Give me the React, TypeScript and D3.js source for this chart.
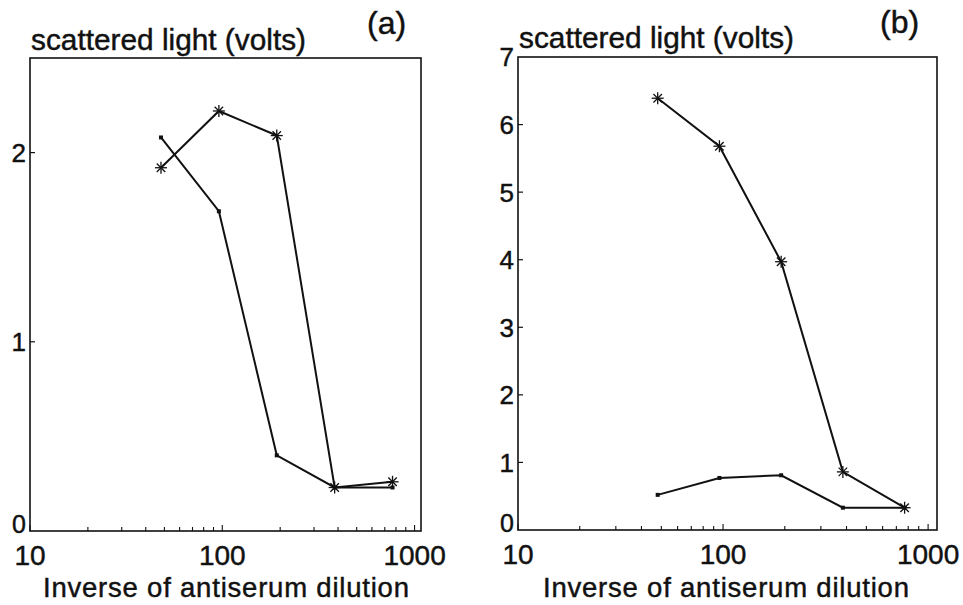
import * as d3 from 'd3'

// 2-fold dilution series (inverse of antiserum dilution)
const dilution = [48, 96, 192, 384, 768]

// panel (a)
const aStar = [1.92, 2.22, 2.09, 0.23, 0.26]
const aDot = [2.08, 1.69, 0.40, 0.23, 0.23]
const aYTicks = [0, 1, 2]

// panel (b)
const bStar = [6.39, 5.68, 3.97, 0.86, 0.33]
const bDot = [0.52, 0.77, 0.81, 0.33, 0.33]
const bYTicks = [0, 1, 2, 3, 4, 5, 6, 7]

const xMajor = [10, 100, 1000]
const xMinor = [20, 30, 40, 50, 60, 70, 80, 90, 200, 300, 400, 500, 600, 700, 800, 900]

const FONT = '"Liberation Sans", Arial, sans-serif'

interface PanelProps {
  left: number
  right: number
  top: number
  bottom: number
  xMax: number
  yMax: number
  yTicks: number[]
  star: number[]
  dot: number[]
  tag: string
  tagX: number
  tagY: number
  titleY: number
  xLabelX: number
}

function Star({ x, y }: { x: number, y: number }) {
  const r = 6
  const arms = [0, 45, 90, 135]
  return (
    <g>
      {arms.map(a => {
        const dx = r * Math.cos(a * Math.PI / 180)
        const dy = r * Math.sin(a * Math.PI / 180)
        return <line key={a} x1={x - dx} y1={y - dy} x2={x + dx} y2={y + dy} stroke="#111" strokeWidth={1.3} />
      })}
    </g>
  )
}

function Panel(p: PanelProps) {
  const x = d3.scaleLog().domain([10, p.xMax]).range([p.left, p.right])
  const y = d3.scaleLinear().domain([0, p.yMax]).range([p.bottom, p.top])
  const line = d3.line<number>().x((_, i) => x(dilution[i])).y(v => y(v))

  return (
    <g>
      <rect x={p.left} y={p.top} width={p.right - p.left} height={p.bottom - p.top}
        fill="none" stroke="#111" strokeWidth={1.6} />

      {/* x ticks, inward */}
      {xMinor.map(t => (
        <line key={t} x1={x(t)} x2={x(t)} y1={p.bottom} y2={p.bottom - 4} stroke="#111" strokeWidth={1.1} />
      ))}
      {xMajor.map(t => (
        <line key={t} x1={x(t)} x2={x(t)} y1={p.bottom} y2={p.bottom - 6} stroke="#111" strokeWidth={1.1} />
      ))}
      {p.yTicks.filter(t => t > 0 && t < p.yMax).map(t => (
        <line key={t} x1={p.left} x2={p.left + 5} y1={y(t)} y2={y(t)} stroke="#111" strokeWidth={1.2} />
      ))}

      <path d={line(p.dot) ?? ''} fill="none" stroke="#111" strokeWidth={2} />
      <path d={line(p.star) ?? ''} fill="none" stroke="#111" strokeWidth={2} />
      {p.dot.map((v, i) => (
        <rect key={i} x={x(dilution[i]) - 2} y={y(v) - 2} width={4} height={4} fill="#111" />
      ))}
      {p.star.map((v, i) => <Star key={i} x={x(dilution[i])} y={y(v)} />)}

      <g fontFamily={FONT} fill="#111" stroke="#111" strokeWidth={0.45}>
        {p.yTicks.map(t => (
          <text key={t} x={p.left - 4} y={t === 0 ? y(t) - 7 : y(t)} dy="0.36em" textAnchor="end" fontSize={t === 0 ? 25 : 26}>{t}</text>
        ))}
        {xMajor.map(t => (
          <text key={t} x={x(t)} y={p.bottom + 34} textAnchor="middle" fontSize={28}>{t}</text>
        ))}
        <text x={p.left + 1} y={p.titleY} fontSize={30} textLength={275} lengthAdjust="spacingAndGlyphs">scattered light (volts)</text>
        <text x={p.tagX} y={p.tagY} fontSize={32}>{p.tag}</text>
        <text x={p.xLabelX} y={597} fontSize={27.5} textLength={366} lengthAdjust="spacing">Inverse of antiserum dilution</text>
      </g>
    </g>
  )
}

export default function App() {
  return (
    <svg width={963} height={605} viewBox="0 0 963 605"
      style={{ position: 'absolute', left: 0, top: 0, background: '#fff' }}>
      <rect width={963} height={605} fill="#fff" />
      <Panel left={30} right={421} top={58} bottom={531} xMax={1080} yMax={2.5} yTicks={aYTicks}
        star={aStar} dot={aDot} tag="(a)" tagX={367} tagY={34} titleY={50} xLabelX={43} />
      <Panel left={518} right={937} top={57} bottom={530} xMax={1105} yMax={7} yTicks={bYTicks}
        star={bStar} dot={bDot} tag="(b)" tagX={880} tagY={33} titleY={48} xLabelX={543} />
    </svg>
  )
}
